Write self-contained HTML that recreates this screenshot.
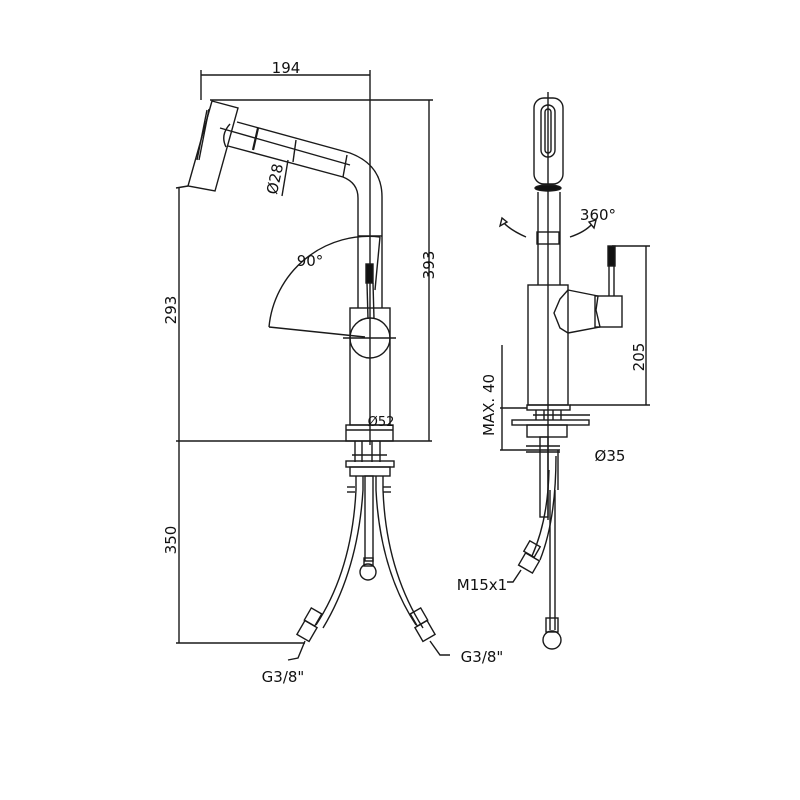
<!DOCTYPE html>
<html><head><meta charset="utf-8"><style>
html,body{margin:0;padding:0;background:#fff;width:800px;height:800px;overflow:hidden}
text{font-family:"DejaVu Sans","Liberation Sans",sans-serif;fill:#111}
</style></head><body>
<svg width="800" height="800" viewBox="0 0 800 800" xmlns="http://www.w3.org/2000/svg">
<g fill="none" stroke="#1a1a1a" stroke-width="1.4">
<!-- LEFT VIEW dims -->
<line x1="201" y1="75" x2="370" y2="75"/>
<line x1="201" y1="70" x2="201" y2="100"/>
<line x1="370" y1="70" x2="370" y2="445"/>
<line x1="210" y1="100" x2="433" y2="100"/>
<line x1="429" y1="100" x2="429" y2="441"/>
<line x1="176" y1="441" x2="432" y2="441"/>
<line x1="179" y1="188" x2="179" y2="643"/>
<line x1="176" y1="188" x2="188" y2="186"/>
<line x1="176" y1="643" x2="305" y2="643"/>
<!-- spout head -->
<polygon points="212,101 238,108 215,191 188,186"/>
<line x1="207" y1="110" x2="197" y2="160"/>
<line x1="209" y1="109" x2="199" y2="160"/>
<path d="M230,124 Q220,135 226,147"/>
<!-- tube -->
<path d="M237,122 L350,153 Q382,165 382,197 L382,308"/>
<path d="M228,146 L343,177 Q358,183 358,198 L358,308"/>
<line x1="220" y1="128" x2="350" y2="165"/>
<line x1="258" y1="128" x2="253" y2="150" stroke-width="2.2"/>
<line x1="296" y1="140" x2="293" y2="162"/>
<line x1="347" y1="155" x2="343" y2="177"/>
<line x1="288" y1="160" x2="282" y2="196"/>
<line x1="358" y1="236" x2="382" y2="236"/>
<!-- body -->
<rect x="350" y="308" width="40" height="117"/>
<rect x="346" y="425" width="47" height="16"/>
<line x1="346" y1="430" x2="393" y2="430"/>
<circle cx="370" cy="338" r="20"/>
<line x1="343" y1="338" x2="396" y2="338"/>
<line x1="367" y1="283" x2="368" y2="319"/>
<line x1="373" y1="283" x2="374" y2="319"/>
<rect x="366" y="264" width="7" height="19" fill="#111"/>
<!-- 90 deg -->
<path d="M269,327 A100,100 0 0,1 380,237"/>
<line x1="269" y1="327" x2="365" y2="337"/>
<line x1="380" y1="237" x2="375" y2="290"/>
<!-- under left -->
<line x1="355" y1="441" x2="355" y2="462"/><line x1="362" y1="441" x2="362" y2="462"/>
<line x1="372" y1="441" x2="372" y2="462"/><line x1="380" y1="441" x2="380" y2="462"/>
<line x1="352" y1="455" x2="387" y2="455"/>
<rect x="346" y="461" width="48" height="6"/>
<rect x="350" y="467" width="40" height="9"/>
<line x1="347" y1="487" x2="355" y2="487"/><line x1="347" y1="492" x2="355" y2="492"/>
<line x1="383" y1="487" x2="391" y2="487"/><line x1="383" y1="492" x2="391" y2="492"/>
<path d="M356,476 L356,490 Q352,570 316,625"/>
<path d="M363,476 L363,490 Q358,570 323,628"/>
<path d="M376,476 L376,490 Q380,570 416,625"/>
<path d="M383,476 L383,490 Q386,570 423,628"/>
<rect x="365" y="476" width="8" height="85"/>
<circle cx="368" cy="572" r="8"/>
<rect x="364" y="558" width="9" height="8"/>
<rect x="300" y="623" width="14" height="16" transform="rotate(30 307 631)"/>
<rect x="307" y="610" width="12" height="14" transform="rotate(30 313 617)"/>
<rect x="418" y="623" width="14" height="16" transform="rotate(-30 425 631)"/>
<rect x="413" y="610" width="12" height="14" transform="rotate(-30 419 617)"/>
<path d="M305,641 L298,658 L288,660"/>
<path d="M430,641 L440,655 L450,655"/>
<!-- RIGHT VIEW -->
<line x1="548" y1="92" x2="548" y2="520"/>
<rect x="534" y="98" width="29" height="86" rx="10"/>
<rect x="541" y="105" width="14" height="52" rx="7"/>
<rect x="545" y="109" width="6" height="44" rx="3"/>
<ellipse cx="548" cy="188" rx="13" ry="3" fill="#111"/>
<line x1="538" y1="192" x2="538" y2="285"/>
<line x1="560" y1="192" x2="560" y2="285"/>
<rect x="537" y="232" width="22" height="12"/>
<path d="M526,237 Q510,230 503,222"/><polygon points="500,226 502,218 507,222" fill="#fff"/>
<path d="M570,237 Q585,232 592,224"/><polygon points="589,222 596,220 594,228" fill="#fff"/>
<rect x="528" y="285" width="40" height="120"/>
<path d="M568,290 L560,299 L554,313 L560,328 L568,333"/>
<path d="M568,290 L598,296 L596,310 L600,327 L568,333"/>
<rect x="595" y="296" width="27" height="31"/>
<line x1="609" y1="266" x2="609" y2="296"/><line x1="614" y1="266" x2="614" y2="296"/>
<rect x="608" y="246" width="7" height="20" fill="#111"/>
<line x1="612" y1="246" x2="650" y2="246"/>
<line x1="646" y1="246" x2="646" y2="405"/>
<line x1="570" y1="405" x2="650" y2="405"/>
<rect x="527" y="405" width="43" height="5"/>
<line x1="502" y1="345" x2="502" y2="405"/>
<line x1="502" y1="405" x2="502" y2="450"/>
<line x1="500" y1="450" x2="560" y2="450"/>
<line x1="500" y1="408" x2="527" y2="408"/>
<line x1="536" y1="410" x2="536" y2="420"/><line x1="544" y1="410" x2="544" y2="420"/>
<line x1="553" y1="410" x2="553" y2="420"/><line x1="561" y1="410" x2="561" y2="420"/>
<line x1="533" y1="415" x2="590" y2="415"/>
<rect x="512" y="420" width="77" height="5"/>
<rect x="527" y="425" width="40" height="12"/>
<line x1="526" y1="446" x2="560" y2="446"/><line x1="526" y1="452" x2="560" y2="452"/>
<rect x="540" y="437" width="8" height="80"/>
<line x1="558" y1="450" x2="558" y2="490"/>
<path d="M549,470 Q548,520 532,556"/>
<path d="M556,456 Q556,520 540,560"/>
<line x1="550" y1="490" x2="550" y2="630"/><line x1="555" y1="490" x2="555" y2="630"/>
<rect x="546" y="618" width="12" height="14"/>
<circle cx="552" cy="640" r="9"/>
<rect x="521" y="556" width="16" height="14" transform="rotate(30 529 563)"/>
<rect x="526" y="543" width="12" height="12" transform="rotate(30 532 549)"/>
<path d="M521,570 L513,582 L507,582"/>
</g>
<text x="286" y="73" font-size="15" text-anchor="middle">194</text>
<text x="310" y="266" font-size="15" text-anchor="middle">90°</text>
<text x="0" y="0" font-size="15" transform="translate(434,265) rotate(-90)" text-anchor="middle">393</text>
<text x="0" y="0" font-size="15" transform="translate(176,310) rotate(-90)" text-anchor="middle">293</text>
<text x="0" y="0" font-size="15" transform="translate(176,540) rotate(-90)" text-anchor="middle">350</text>
<text x="0" y="0" font-size="15" transform="translate(280,180) rotate(-78)" text-anchor="middle">Ø28</text>
<text x="381" y="426" font-size="13" text-anchor="middle">Ø52</text>
<text x="283" y="682" font-size="15" text-anchor="middle">G3/8"</text>
<text x="482" y="662" font-size="15" text-anchor="middle">G3/8"</text>
<text x="598" y="220" font-size="15" text-anchor="middle">360°</text>
<text x="0" y="0" font-size="15" transform="translate(644,357) rotate(-90)" text-anchor="middle">205</text>
<text x="0" y="0" font-size="15" transform="translate(494,405) rotate(-90)" text-anchor="middle">MAX. 40</text>
<text x="610" y="461" font-size="15" text-anchor="middle">Ø35</text>
<text x="482" y="590" font-size="15" text-anchor="middle">M15x1</text>
</svg>
</body></html>
